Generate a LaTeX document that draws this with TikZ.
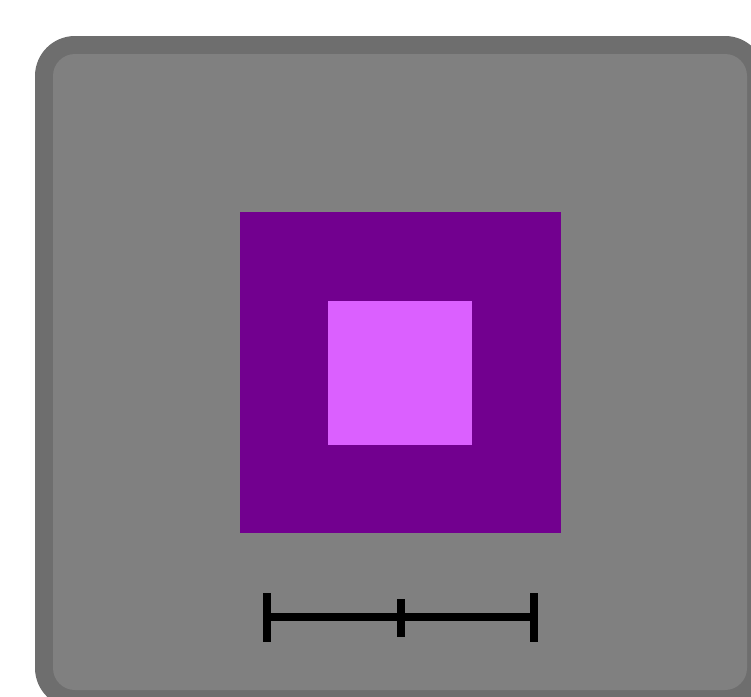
\documentclass[tikz,border=0pt]{standalone}
\begin{document}
\begin{tikzpicture}[x=1pt,y=-1pt,
  panelborder/.style={fill=black!57},
  panelfill/.style={fill=black!50},
  outersq/.style={fill={rgb,255:red,114;green,0;blue,143}},
  innersq/.style={fill={rgb,255:red,219;green,96;blue,255}},
  barline/.style={line width=8pt,draw=black}]
\useasboundingbox (0,0) rectangle (751,696);
\clip (0,0) rectangle (751,696);
\fill[panelborder,rounded corners=40pt] (35,36) rectangle (765,708);
\fill[panelfill,rounded corners=22pt] (53,54) rectangle (747,690);
\fill[outersq] (240,212) rectangle (561,533);
\fill[innersq] (328,301) rectangle (472,445);
\draw[barline] (266,617) -- (534,617);
\draw[barline] (267,593) -- (267,642);
\draw[barline] (400.5,599) -- (400.5,637);
\draw[barline] (534,593) -- (534,642);
\end{tikzpicture}
\end{document}
